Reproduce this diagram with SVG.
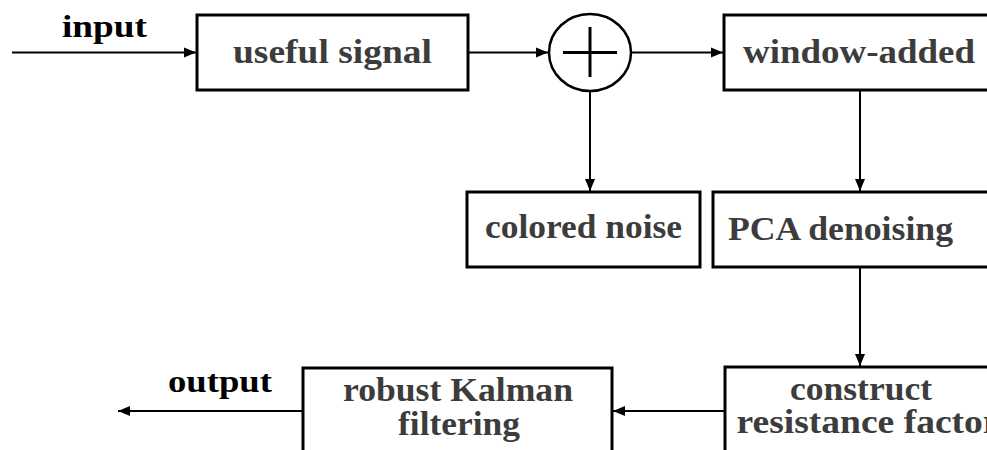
<svg xmlns="http://www.w3.org/2000/svg" width="987" height="450" viewBox="0 0 987 450">
<style>
.box{fill:#fff;stroke:#000;stroke-width:3}
.lbl{font-family:"Liberation Serif","Times New Roman",serif;font-weight:bold;font-size:33px;fill:#3c3c3c;text-anchor:middle}
.io{font-family:"Liberation Serif","Times New Roman",serif;font-weight:bold;font-size:31px;fill:#000;text-anchor:middle}
.conn{fill:none;stroke:#000;stroke-width:2}
</style>
<defs>
<marker id="ah" markerUnits="userSpaceOnUse" markerWidth="13" markerHeight="11" refX="12" refY="5.5" orient="auto">
<path d="M0,0.5 L12,5.5 L0,10.5 z" fill="#000"/>
</marker>
</defs>
<g id="connectors">
<path class="conn" d="M12 52.5 H196" marker-end="url(#ah)"/>
<path class="conn" d="M468 52.5 H548" marker-end="url(#ah)"/>
<path class="conn" d="M631 52.5 H723" marker-end="url(#ah)"/>
<path class="conn" d="M590 91 V191" marker-end="url(#ah)"/>
<path class="conn" d="M860 90 V191" marker-end="url(#ah)"/>
<path class="conn" d="M860 267 V366" marker-end="url(#ah)"/>
<path class="conn" d="M725 411 H613" marker-end="url(#ah)"/>
<path class="conn" d="M303 411 H118" marker-end="url(#ah)"/>
</g>
<g id="input-label"><text class="io" x="104.5" y="37" textLength="85" lengthAdjust="spacingAndGlyphs">input</text></g>
<g id="output-label"><text class="io" x="220" y="392" textLength="104" lengthAdjust="spacingAndGlyphs">output</text></g>
<g id="useful-signal">
<rect class="box" x="197" y="15" width="271" height="75"/>
<text class="lbl" x="332.5" y="63" textLength="199" lengthAdjust="spacingAndGlyphs">useful signal</text>
</g>
<g id="sum">
<ellipse cx="590" cy="52.5" rx="41" ry="38.5" fill="#fff" stroke="#000" stroke-width="2.5"/>
<path d="M563 52.5 H617 M590 27 V77" stroke="#000" stroke-width="3" fill="none"/>
</g>
<g id="window-added">
<rect class="box" x="724" y="15" width="300" height="75"/>
<text class="lbl" x="859" y="63" textLength="232" lengthAdjust="spacingAndGlyphs">window-added</text>
</g>
<g id="colored-noise">
<rect class="box" x="467" y="192" width="233" height="75"/>
<text class="lbl" x="583.5" y="238" textLength="197" lengthAdjust="spacingAndGlyphs">colored noise</text>
</g>
<g id="pca-denoising">
<rect class="box" x="713" y="192" width="300" height="75"/>
<text class="lbl" x="840.5" y="240" textLength="225" lengthAdjust="spacingAndGlyphs">PCA denoising</text>
</g>
<g id="construct-resistance-factor">
<rect class="box" x="725" y="367" width="300" height="100"/>
<text class="lbl" x="861" y="400" textLength="142" lengthAdjust="spacingAndGlyphs">construct</text>
<text class="lbl" x="868" y="433" textLength="263" lengthAdjust="spacingAndGlyphs">resistance factor</text>
</g>
<g id="robust-kalman-filtering">
<rect class="box" x="303" y="368" width="309" height="100"/>
<text class="lbl" x="458" y="401" textLength="230" lengthAdjust="spacingAndGlyphs">robust Kalman</text>
<text class="lbl" x="459" y="435" textLength="122" lengthAdjust="spacingAndGlyphs">filtering</text>
</g>
</svg>
